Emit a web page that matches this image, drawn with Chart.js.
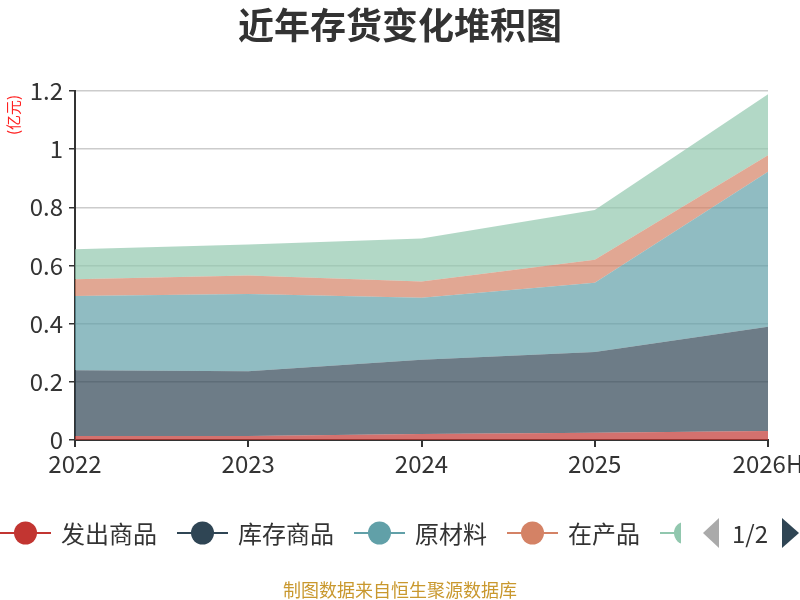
<!DOCTYPE html>
<html>
<head>
<meta charset="utf-8">
<script src="https://cdn.jsdelivr.net/npm/chart.js@4"></script>
<style>
  html, body { margin: 0; padding: 0; background: #fff; }
  #wrap { width: 800px; height: 600px; }
</style>
</head>
<body>
<div id="wrap"><canvas id="stockChart" width="800" height="600"></canvas></div>
<script>
// chart data
const years = ["2022", "2023", "2024", "2025", "2026H"];
const seriesNames = ["发出商品", "库存商品", "原材料", "在产品", "周转材料"];
const shipped = [0.014, 0.014, 0.021, 0.025, 0.031];
const finishedGoods = [0.226, 0.222, 0.255, 0.278, 0.358];
const rawMaterials = [0.255, 0.266, 0.213, 0.238, 0.533];
const workInProgress = [0.058, 0.064, 0.056, 0.079, 0.057];
const otherStock = [0.103, 0.106, 0.148, 0.171, 0.210];
const yTicks = [0, 0.2, 0.4, 0.6, 0.8, 1, 1.2];

const colors = ["#c23531", "#2f4554", "#61a0a8", "#d48265", "#91c7ae"];
const FONT = '"Microsoft YaHei", "Noto Sans CJK SC", sans-serif';
Chart.defaults.font.family = FONT;

const seriesValues = [shipped, finishedGoods, rawMaterials, workInProgress, otherStock];

function fade(hex, a) {
  const n = parseInt(hex.slice(1), 16);
  return "rgba(" + (n >> 16) + "," + ((n >> 8) & 255) + "," + (n & 255) + "," + a + ")";
}

// title, unit label, legend and footer drawn on the canvas
const decorations = {
  id: "decorations",
  afterDraw(chart) {
    const ctx = chart.ctx;
    ctx.save();
    ctx.fillStyle = "#333";
    ctx.font = "bold 36px " + FONT;
    ctx.textAlign = "center";
    ctx.textBaseline = "middle";
    ctx.fillText("近年存货变化堆积图", 400, 25);

    // unit label
    ctx.save();
    ctx.translate(13, 115);
    ctx.rotate(-Math.PI / 2);
    ctx.fillStyle = "#ff2020";
    ctx.font = "15px " + FONT;
    ctx.fillText("(亿元)", 0, 0);
    ctx.restore();

    // legend (page 1 of 2, last item cut off)
    ctx.save();
    ctx.beginPath();
    ctx.rect(0, 500, 681, 70);
    ctx.clip();
    ctx.font = "24px " + FONT;
    ctx.textAlign = "left";
    let x = 0;
    const ly = 533;
    seriesNames.forEach((name, i) => {
      ctx.strokeStyle = colors[i];
      ctx.lineWidth = 2;
      ctx.beginPath();
      ctx.moveTo(x, ly);
      ctx.lineTo(x + 51, ly);
      ctx.stroke();
      ctx.fillStyle = colors[i];
      ctx.beginPath();
      ctx.arc(x + 25.5, ly, 11.5, 0, Math.PI * 2);
      ctx.fill();
      ctx.fillStyle = "#333";
      ctx.fillText(name, x + 61, ly + 1);
      x += 61 + ctx.measureText(name).width + 20;
    });
    ctx.restore();

    // pager
    ctx.fillStyle = "#aaa";
    ctx.beginPath();
    ctx.moveTo(719, 518);
    ctx.lineTo(703, 533);
    ctx.lineTo(719, 548);
    ctx.closePath();
    ctx.fill();
    ctx.fillStyle = "#333";
    ctx.font = "24px " + FONT;
    ctx.textAlign = "left";
    ctx.fillText("1/2", 732, ly + 1);
    ctx.fillStyle = "#2f4554";
    ctx.beginPath();
    ctx.moveTo(782, 518);
    ctx.lineTo(799, 533);
    ctx.lineTo(782, 548);
    ctx.closePath();
    ctx.fill();

    // footer
    ctx.fillStyle = "#c9982e";
    ctx.font = "18px " + FONT;
    ctx.textAlign = "center";
    ctx.fillText("制图数据来自恒生聚源数据库", 400, 590);
    ctx.restore();
  }
};

new Chart(document.getElementById("stockChart"), {
  type: "line",
  data: {
    labels: years,
    datasets: seriesNames.map((name, i) => ({
      label: name,
      data: seriesValues[i],
      fill: i === 0 ? "origin" : "-1",
      backgroundColor: fade(colors[i], 0.7),
      borderColor: fade(colors[i], 0.7),
      borderWidth: 0,
      pointRadius: 0,
      pointHoverRadius: 0,
      tension: 0,
    })),
  },
  options: {
    responsive: false,
    animation: false,
    layout: { padding: { left: 0, right: 32, top: 91, bottom: 0 } },
    plugins: {
      legend: { display: false },
      title: { display: false },
      tooltip: { enabled: false },
    },
    scales: {
      x: {
        offset: false,
        grid: { drawOnChartArea: false, drawTicks: true, tickLength: 7, color: "#333", lineWidth: 2 },
        border: { color: "#333", width: 2 },
        ticks: { color: "#333", font: { size: 24 }, padding: 2, maxRotation: 0, autoSkip: false },
        afterFit(scale) {
          scale.height = 160;
          scale.paddingLeft = 0;
          scale.paddingRight = 0;
        },
      },
      y: {
        stacked: true,
        min: 0,
        max: 1.2,
        afterBuildTicks(scale) {
          scale.ticks = yTicks.map(v => ({ value: v }));
        },
        grid: { color: "#ccc", lineWidth: 1.5, tickColor: "#333", tickLength: 6 },
        border: { color: "#333", width: 2 },
        ticks: { color: "#333", font: { size: 24 }, padding: 6, callback: v => String(v) },
        afterFit(scale) {
          scale.width = 75;
          scale.paddingTop = 0;
          scale.paddingBottom = 0;
        },
      },
    },
  },
  plugins: [decorations],
});
</script>
</body>
</html>
